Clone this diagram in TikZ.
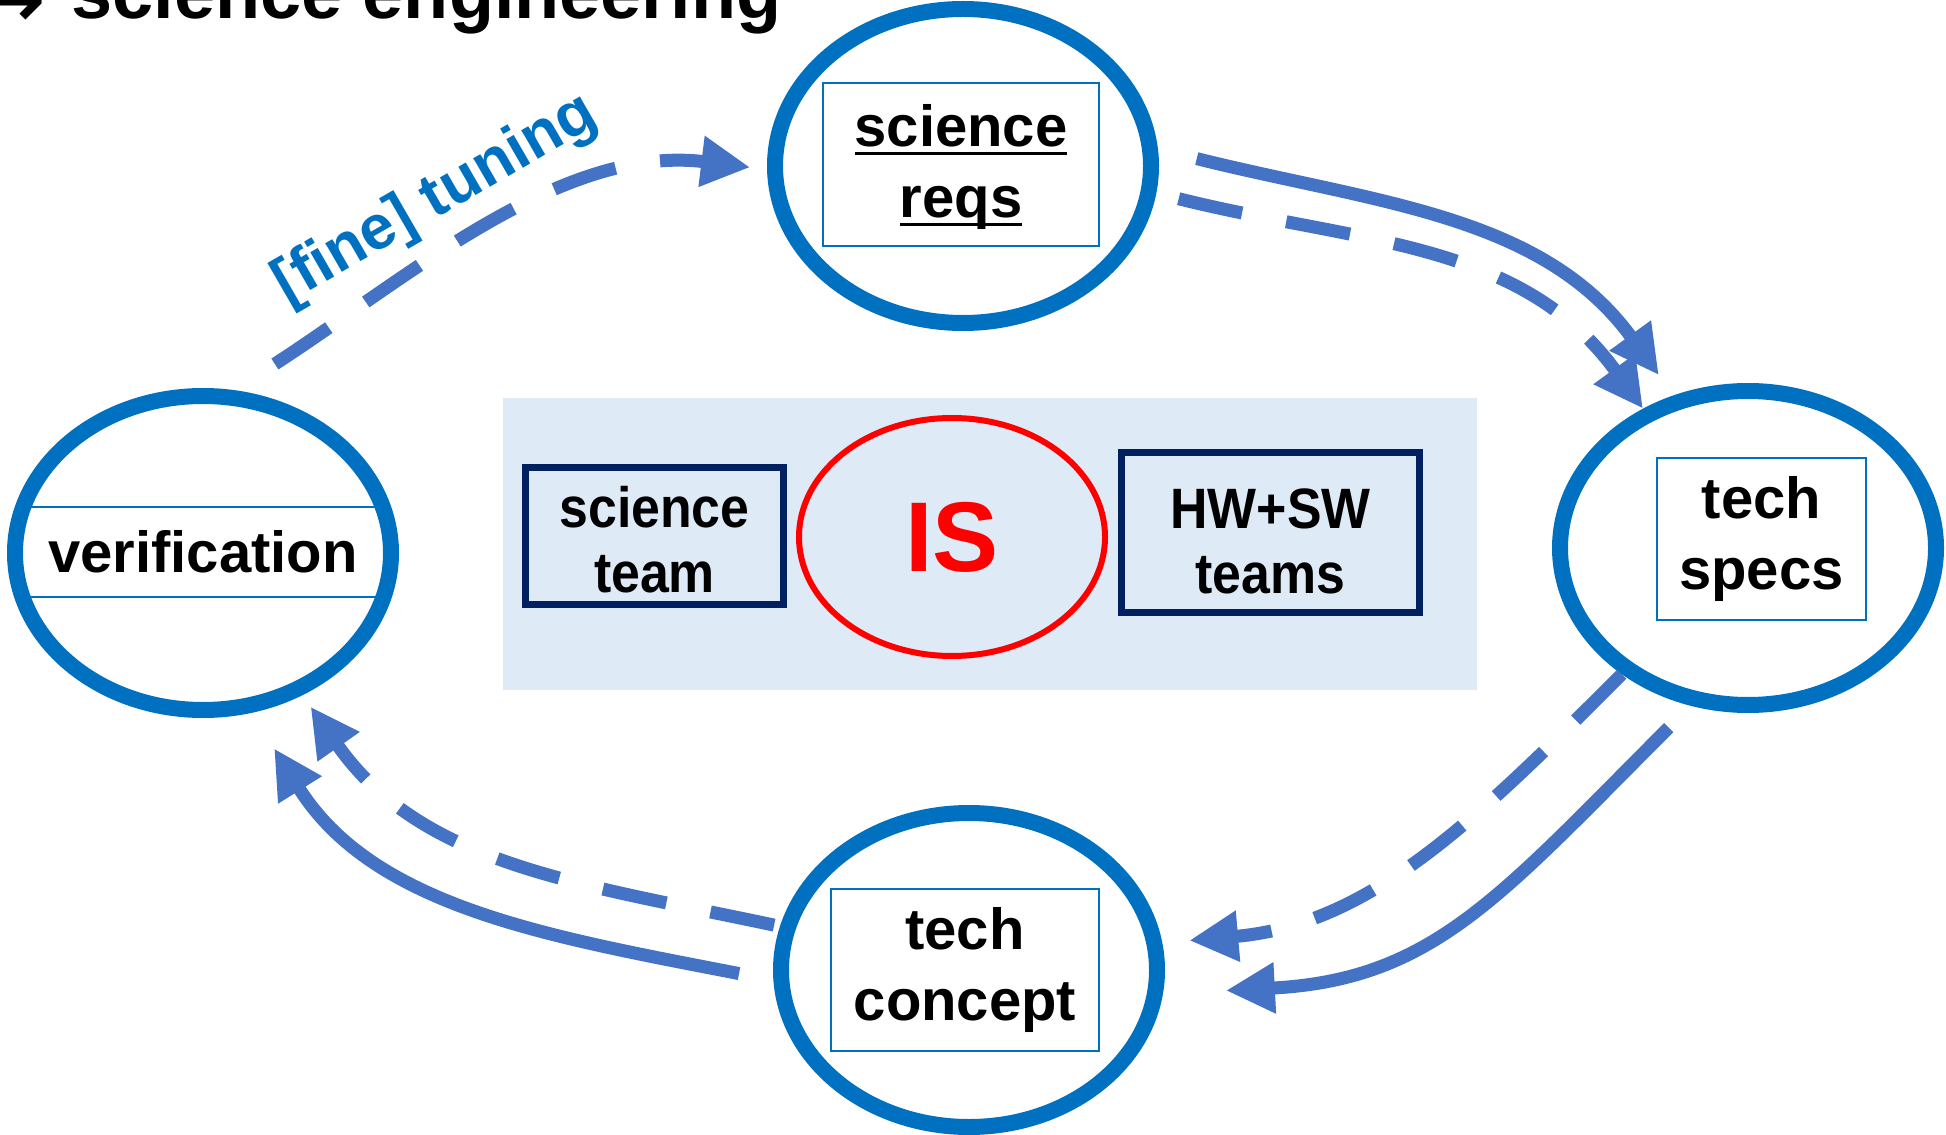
\documentclass[tikz,border=0pt]{standalone}
\usepackage{fontspec}
\setmainfont{Liberation Sans}
\newfontfamily\arrowfont{DejaVu Sans}
\usetikzlibrary{shapes.geometric,arrows.meta,positioning}

\definecolor{ringblue}{HTML}{0070C0}
\definecolor{flowblue}{HTML}{4472C4}
\definecolor{teamnavy}{HTML}{002060}
\definecolor{panelblue}{HTML}{DEEAF6}

% underline sitting at a fixed depth below the baseline
\newcommand\undl[1]{\setbox0\hbox{#1}\rlap{\rule[-2.4pt]{\wd0}{0.85pt}}\box0}
% slightly condensed text for the team boxes
\newcommand\squeezed[1]{\scalebox{0.91}[1]{#1}}

\begin{document}
\begin{tikzpicture}[
  ring/.style={draw=ringblue, line width=0.16cm, ellipse, minimum width=3.76cm, minimum height=3.14cm, inner sep=0pt},
  lblbox/.style={draw=ringblue, line width=0.6pt, align=center, inner sep=0pt, font=\fontsize{16.5}{20.2}\selectfont\bfseries},
  teambox/.style={draw=teamnavy, line width=0.075cm, align=center, inner sep=0pt, font=\fontsize{16.2}{18.5}\selectfont\bfseries},
  flow/.style={draw=flowblue, line width=0.13cm, -{Triangle[length=4.9mm,width=4.8mm]}},
  flowdash/.style={flow, dash pattern=on 0.65cm off 0.45cm},
]
  \useasboundingbox (0,0) rectangle (19.46,-11.35);

  % middle panel: the IS team between science and HW/SW
  \node (panel) [fill=panelblue, minimum width=9.74cm, minimum height=2.92cm, inner sep=0pt] at (9.90,-5.44) {};
  \node (sciteam) [teambox, minimum width=2.58cm, minimum height=1.37cm] at (6.545,-5.36) {\rule{0pt}{0.48cm}\squeezed{science}\\\squeezed{team}};
  \node (hwsw) [teambox, minimum width=2.98cm, minimum height=1.60cm] at (12.705,-5.325) {\rule{0pt}{0.58cm}\squeezed{HW+SW}\\\squeezed{teams}};
  \node (is) [draw=red, line width=0.06cm, ellipse, minimum width=3.06cm, minimum height=2.38cm, inner sep=0pt,
    text=red, font=\fontsize{28.2}{30}\selectfont\bfseries] at (9.52,-5.37) {IS};

  % labels inside the four stages
  \node (reqsbox) [lblbox, minimum width=2.76cm, minimum height=1.63cm] at (9.61,-1.645) {\rule{0pt}{0.48cm}\undl{science}\\\undl{reqs}};
  \node (specsbox) [lblbox, minimum width=2.09cm, minimum height=1.62cm] at (17.615,-5.39) {tech\\specs};
  \node (conceptbox) [lblbox, minimum width=2.68cm, minimum height=1.62cm] at (9.65,-9.70) {tech\\concept};
  \node (verifbox) [lblbox, minimum width=3.62cm, minimum height=0.90cm] at (2.03,-5.52) {verification};

  % the four stages
  \node (reqs) [ring] at (9.63,-1.66) {};
  \node (specs) [ring] at (17.48,-5.48) {};
  \node (concept) [ring] at (9.69,-9.70) {};
  \node (verif) [ring] at (2.03,-5.53) {};

  % cycle
  \draw [flowdash, shorten <=0.48cm, shorten >=0.17cm] (verif.79) to[out=33, in=173, looseness=0.92] (reqs.181);
  \draw [flow, shorten <=0.40cm, shorten >=0.25cm] (reqs.5) to[out=-14, in=126] (specs.116);
  \draw [flowdash, shorten <=0.23cm] (reqs.-8) to[out=-14, in=126] (specs.127);
  \draw [flowdash, shorten >=0.27cm] (specs.225) to[out=225, in=5] (concept.8);
  \draw [flow, shorten <=0.31cm, shorten >=0.63cm] (specs.250) to[out=225, in=3, looseness=1.15] (concept.-7);
  \draw [flowdash, shorten <=0.06cm, shorten >=0.14cm] (concept.167) to[out=168, in=-55] (verif.-55);
  \draw [flow, shorten <=0.35cm, shorten >=0.42cm] (concept.183) to[out=169, in=-58] (verif.-73);

  \node (tuning) [rotate=30, text=ringblue, font=\fontsize{17.8}{20}\selectfont\bfseries] at (4.36,-2.00) {[fine] tuning};

  % heading, cut by the top edge
  \node (title) [anchor=base west, inner sep=0pt, font=\fontsize{21}{25}\selectfont\bfseries] at (0.71,-0.19) {science engineering};
  \node (titlearrow) [anchor=base east, inner sep=0pt, font=\fontsize{24}{28}\selectfont\arrowfont\bfseries] at ([xshift=-2.4mm, yshift=-0.9mm]title.base west) {→};
\end{tikzpicture}
\end{document}
